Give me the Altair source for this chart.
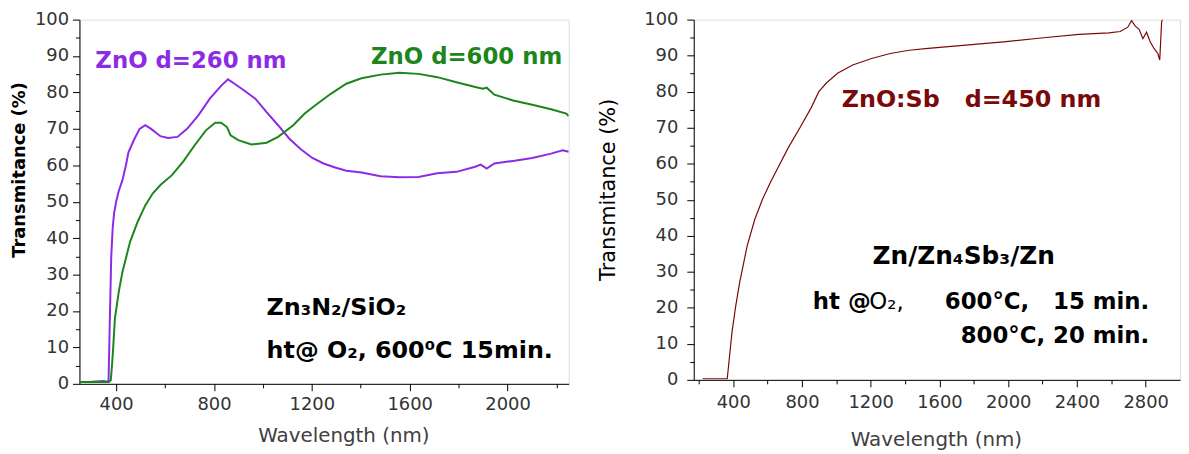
import altair as alt
import pandas as pd

# ---------------- data ----------------
# Left panel: ZnO d=260 nm (purple)
p_wl = [250, 300, 350, 365, 369, 375, 380, 386, 392, 400, 411, 426, 440, 450, 473, 496, 519,
        543, 581, 612, 651, 690, 736, 783, 829, 857, 884, 922, 969, 1015, 1062, 1108, 1155,
        1202, 1248, 1295, 1341, 1403, 1481, 1558, 1636, 1713, 1791, 1868, 1890, 1915, 1946,
        2023, 2101, 2178, 2225, 2250]
p_tr = [0.5, 0.6, 0.8, 0.5, 1.0, 20, 35, 43, 47, 50, 53, 56, 60, 63.5, 67, 70, 71,
        70, 68, 67.5, 67.8, 70, 73.7, 78.3, 81.8, 83.6, 82.4, 80.6, 78.3, 74.6, 71, 67.3, 64.4,
        62, 60.5, 59.4, 58.5, 58, 57, 56.7, 56.8, 57.8, 58.2, 59.6, 60.2, 59.1, 60.5,
        61.2, 62, 63.2, 64.1, 63.7]

# Left panel: ZnO d=600 nm (green)
g_wl = [250, 370, 378, 383, 388, 395, 411, 426, 457, 488, 519, 550, 581, 628, 674, 721, 767,
        805, 829, 853, 868, 899, 953, 1015, 1062, 1124, 1171, 1217, 1279, 1341, 1403, 1481,
        1558, 1636, 1713, 1791, 1868, 1899, 1915, 1946, 2023, 2101, 2178, 2240, 2250]
g_tr = [0.5, 0.5, 1, 5, 10, 18, 25.4, 30.8, 39, 44.5, 49, 52.3, 54.6, 57.3, 61, 65.5, 69.6,
        71.7, 71.7, 70.5, 68.2, 66.9, 65.7, 66.2, 67.8, 71, 74.2, 76.6, 79.7, 82.4, 83.9, 84.9,
        85.4, 85.1, 84.2, 82.8, 81.5, 81, 81.3, 79.4, 77.8, 76.6, 75.4, 74.2, 73.5]

# Right panel: ZnO:Sb d=450 nm (dark red)
b_wl = [222, 300, 365, 393, 415, 437, 481, 525, 569, 613, 657, 722, 788, 853, 898, 942, 1007,
        1095, 1205, 1314, 1424, 1534, 1753, 1972, 2191, 2411, 2586, 2652, 2696, 2718, 2740,
        2762, 2784, 2805, 2827, 2849, 2871, 2882, 2893, 2897]
b_tr = [0.3, 0.3, 0.3, 13.4, 20.7, 27, 37.2, 44.5, 50, 54.5, 58.6, 64.6, 70, 75.5, 80, 82.4, 85.1,
        87.4, 89.2, 90.6, 91.5, 92, 92.9, 93.8, 94.9, 95.9, 96.3, 96.7, 97.9, 99.7, 98.2,
        97.3, 94.7, 96.5, 93.8, 92, 90.6, 88.8, 99.3, 100]

# Tick values
LX_TICKS = list(range(400, 2201, 200))
RX_TICKS = list(range(200, 2801, 200))
Y_TICKS = list(range(0, 101, 5))

# Annotation texts (anchored in data coordinates)
left_label_txt = ["ZnO d=260 nm", "ZnO d=600 nm"]
left_label_wl = [315, 1442]
left_label_tr = [86.6, 87.9]
left_note_txt = ["Zn\u2083N\u2082/SiO\u2082", "ht@ O\u2082, 600\u2070C 15min."]
left_note_wl = [1015, 1015]
left_note_tr = [18.9, 7.1]

right_label_txt = ["ZnO:Sb\u00a0\u00a0\u00a0d=450 nm"]
right_label_wl = [1031]
right_label_tr = [75.8]
right_center_txt = ["Zn/Zn\u2084Sb\u2083/Zn"]
right_center_wl = [1741]
right_center_tr = [32.2]
right_ht_txt = ["ht @"]
right_ht_wl = [863]
right_o2_txt = ["O\u2082,"]
right_o2_wl = [1192]
right_line_tr = [19.6]
right_rt_txt = ["600\u00b0C,\u00a0\u00a0 15 min.", "800\u00b0C, 20 min."]
right_rt_wl = [2821, 2821]
right_rt_tr = [19.6, 10.2]

PURPLE = "#8c2be6"
GREEN = "#1c861c"
BROWN = "#7a0a0a"
FONT = "DejaVu Sans"

# ---------------- helpers ----------------
def major_minor(step):
    return {"condition": {"test": f"datum.value % {step} === 0", "value": 7}, "value": 4}


def lbl(step):
    return f"datum.value % {step} === 0 ? format(datum.value, 'd') : ''"


def xaxis(values, step, tx, ty, lpad):
    return alt.Axis(values=values, labelExpr=lbl(step), tickSize=major_minor(step),
                    labelOverlap=False, labelFlush=False,
                    tickColor="black", domainColor="black", grid=False,
                    labelFont=FONT, labelFontSize=18, labelColor="#333333", labelPadding=lpad,
                    title="Wavelength (nm)", titleFont=FONT, titleFontSize=20,
                    titleFontWeight="normal", titleColor="#404040",
                    titleX=tx, titleY=ty, titleBaseline="middle", titleAlign="center")


def yaxis(tx, ty, lpad, tsize, tweight):
    return alt.Axis(values=Y_TICKS, labelExpr=lbl(10), tickSize=major_minor(10),
                    labelOverlap=False, labelFlush=False,
                    tickColor="black", domainColor="black", grid=False,
                    labelFont=FONT, labelFontSize=18, labelColor="#333333", labelPadding=lpad,
                    title="Transmitance (%)", titleFont=FONT, titleFontSize=tsize,
                    titleFontWeight=tweight, titleColor="black",
                    titleX=tx, titleY=ty, titleBaseline="middle", titleAlign="center", titleAngle=270)


def line(wl, tr, color, width, xs, ys, xa, ya):
    return alt.Chart(pd.DataFrame({"wl": wl, "tr": tr})).mark_line(
        color=color, strokeWidth=width, clip=True).encode(
        x=alt.X("wl:Q", scale=xs, axis=xa), y=alt.Y("tr:Q", scale=ys, axis=ya))


def texts(wl, tr, txt, color, size, weight, align, xs, ys, xa, ya):
    df = pd.DataFrame({"wl": wl, "tr": tr, "txt": txt})
    return alt.Chart(df).mark_text(font=FONT, fontSize=size, fontWeight=weight, color=color,
                                   align=align, baseline="alphabetic").encode(
        x=alt.X("wl:Q", scale=xs, axis=xa), y=alt.Y("tr:Q", scale=ys, axis=ya), text="txt:N")


# ---------------- left panel ----------------
lxs = alt.Scale(domain=[250, 2250], nice=False, zero=False)
lys = alt.Scale(domain=[0, 100], nice=False, zero=False)
lxa = xaxis(LX_TICKS, 400, 266, 52, 5)
lya = yaxis(-60.5, 151, 4, 18, "bold")

left = alt.layer(
    line(p_wl, p_tr, PURPLE, 2, lxs, lys, lxa, lya),
    line(g_wl, g_tr, GREEN, 2, lxs, lys, lxa, lya),
    texts(left_label_wl[:1], left_label_tr[:1], left_label_txt[:1], PURPLE, 23, "bold", "left", lxs, lys, lxa, lya),
    texts(left_label_wl[1:], left_label_tr[1:], left_label_txt[1:], GREEN, 23, "bold", "left", lxs, lys, lxa, lya),
    texts(left_note_wl, left_note_tr, left_note_txt, "black", 24, "bold", "left", lxs, lys, lxa, lya),
).properties(width=493, height=367)

# ---------------- right panel ----------------
rxs = alt.Scale(domain=[170, 3000], nice=False, zero=False)
rys = alt.Scale(domain=[0, 100], nice=False, zero=False)
rxa = xaxis(RX_TICKS, 400, 244, 60, 7)
rya = yaxis(-85.5, 171, 9, 21, "normal")

right = alt.layer(
    line(b_wl, b_tr, BROWN, 1.2, rxs, rys, rxa, rya),
    texts(right_label_wl, right_label_tr, right_label_txt, BROWN, 24, "bold", "left", rxs, rys, rxa, rya),
    texts(right_center_wl, right_center_tr, right_center_txt, "black", 25, "bold", "center", rxs, rys, rxa, rya),
    texts(right_ht_wl, right_line_tr, right_ht_txt, "black", 23, "bold", "left", rxs, rys, rxa, rya),
    texts(right_o2_wl, right_line_tr, right_o2_txt, "black", 23, "normal", "left", rxs, rys, rxa, rya),
    texts(right_rt_wl, right_rt_tr, right_rt_txt, "black", 23, "bold", "right", rxs, rys, rxa, rya),
).properties(width=490, height=363)

chart = alt.hconcat(left, right, spacing=28).properties(
    padding={"left": 2, "top": 0, "right": 0, "bottom": 0}
).configure_view(stroke="black", strokeWidth=1).configure(background="white")

chart.save("out.html", embed_options={"renderer": "svg", "actions": False})
